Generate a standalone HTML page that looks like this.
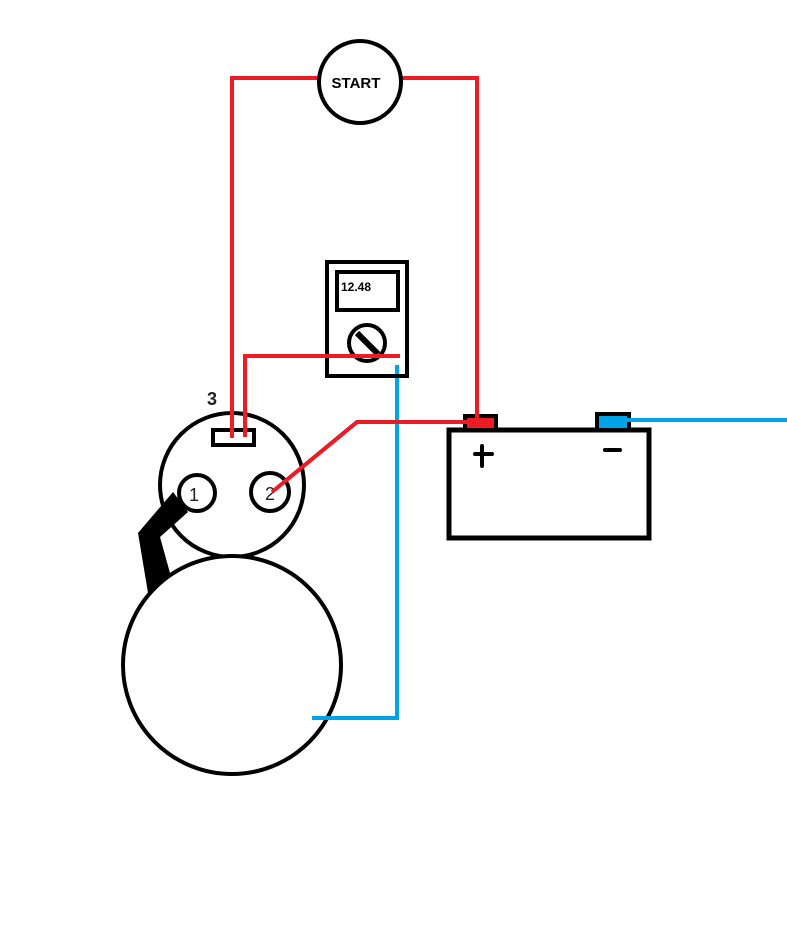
<!DOCTYPE html>
<html><head><style>html,body{margin:0;padding:0;background:#fff;}svg{display:block;}</style></head>
<body>
<svg width="787" height="946" viewBox="0 0 787 946" xmlns="http://www.w3.org/2000/svg">
<rect width="787" height="946" fill="#fff"/>
<g stroke="#ed1c24" stroke-width="4" fill="none">
<polyline points="232,438 232,78 320,78"/>
<polyline points="402,78 477,78 477,420"/>
<polyline points="245,437 245,356 400,356"/>
<polyline points="272,492 357,422 493,422"/>
</g>
<g stroke="#00a2e8" stroke-width="4" fill="none">
<polyline points="397,365 397,718 312,718"/>
<line x1="627" y1="420" x2="787" y2="420"/>
</g>
<circle cx="360" cy="82" r="41" fill="#fff" stroke="#000" stroke-width="4"/>
<text x="356" y="88" font-family="Liberation Sans, sans-serif" font-weight="bold" font-size="15" text-anchor="middle">START</text>
<rect x="327" y="262" width="80" height="114" fill="none" stroke="#000" stroke-width="4"/>
<rect x="337" y="272" width="61" height="38" fill="none" stroke="#000" stroke-width="4"/>
<text x="341" y="291" font-family="Liberation Sans, sans-serif" font-weight="bold" font-size="12">12.48</text>
<circle cx="367" cy="343" r="18" fill="none" stroke="#000" stroke-width="4"/>
<line x1="357" y1="333" x2="378" y2="354" stroke="#000" stroke-width="6"/>
<line x1="245" y1="356" x2="400" y2="356" stroke="#ed1c24" stroke-width="4"/>
<rect x="449" y="430" width="200" height="108" fill="#fff" stroke="#000" stroke-width="5"/>
<rect x="465" y="416" width="31" height="14" fill="#ed1c24" stroke="#000" stroke-width="4"/>
<rect x="597" y="414" width="32" height="16" fill="#00a2e8" stroke="#000" stroke-width="4"/>
<line x1="477" y1="78" x2="477" y2="420" stroke="#ed1c24" stroke-width="4"/>
<line x1="440" y1="422" x2="493" y2="422" stroke="#ed1c24" stroke-width="4"/>
<line x1="627" y1="420" x2="787" y2="420" stroke="#00a2e8" stroke-width="4"/>
<path d="M475 454 H492 M482 446 V466" stroke="#000" stroke-width="4" stroke-linecap="round"/>
<path d="M605 450 H620" stroke="#000" stroke-width="4" stroke-linecap="round"/>
<circle cx="232" cy="485" r="72" fill="none" stroke="#000" stroke-width="4"/>
<rect x="213" y="430" width="41" height="15" fill="#fff" stroke="#000" stroke-width="4"/>
<line x1="232" y1="300" x2="232" y2="438" stroke="#ed1c24" stroke-width="4"/>
<line x1="245" y1="356" x2="245" y2="437" stroke="#ed1c24" stroke-width="4"/>
<text x="212" y="405" font-family="Liberation Sans, sans-serif" font-size="18" font-weight="bold" fill="#222" text-anchor="middle">3</text>
<circle cx="232" cy="665" r="109" fill="#fff" stroke="#000" stroke-width="4"/>
<line x1="312" y1="718" x2="397" y2="718" stroke="#00a2e8" stroke-width="4"/>
<polygon points="173,492 188,512 160,537 170,573 148,593 138,533" fill="#000"/>
<circle cx="197" cy="493" r="18" fill="#fff" stroke="#000" stroke-width="4"/>
<text x="194" y="501" font-family="Liberation Sans, sans-serif" font-size="18" fill="#222" text-anchor="middle">1</text>
<circle cx="270" cy="492" r="19" fill="#fff" stroke="#000" stroke-width="4"/>
<text x="270" y="500" font-family="Liberation Sans, sans-serif" font-size="18" fill="#222" text-anchor="middle">2</text>
<line x1="272" y1="492" x2="357" y2="422" stroke="#ed1c24" stroke-width="4"/>
<line x1="357" y1="422" x2="440" y2="422" stroke="#ed1c24" stroke-width="4"/>
</svg>
</body></html>
